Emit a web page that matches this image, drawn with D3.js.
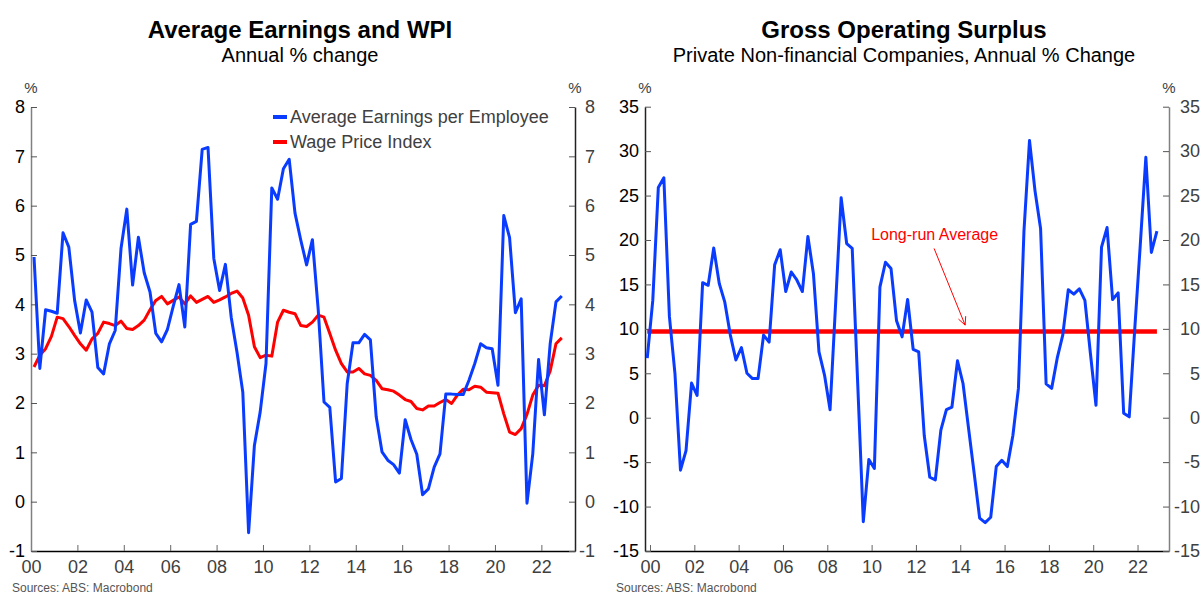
<!DOCTYPE html>
<html>
<head>
<meta charset="utf-8">
<script src="https://cdn.jsdelivr.net/npm/d3@7"></script>
<style>
body { margin: 0; background: #fff; }
svg { font-family: "Liberation Sans", Arial, sans-serif; }
</style>
</head>
<body>
<svg id="chart" width="1203" height="597"></svg>
<script>
// quarterly values
var earnings = [4.96, 2.70, 3.89, 3.86, 3.82, 5.45, 5.16, 4.08, 3.42, 4.09, 3.84, 2.72, 2.59, 3.20, 3.47, 5.13,
    5.93, 4.39, 5.36, 4.64, 4.25, 3.41, 3.24, 3.49, 3.96, 4.40, 3.54, 5.62, 5.68, 7.14, 7.18, 4.93,
    4.28, 4.81, 3.74, 3.03, 2.22, -0.63, 1.14, 1.82, 2.80, 6.36, 6.13, 6.75, 6.94, 5.85, 5.30, 4.80,
    5.31, 3.90, 2.02, 1.91, 0.40, 0.47, 2.39, 3.22, 3.22, 3.39, 3.28, 1.72, 1.01, 0.84, 0.75, 0.58,
    1.66, 1.26, 0.96, 0.14, 0.26, 0.70, 0.97, 2.18, 2.18, 2.17, 2.17, 2.46, 2.80, 3.20, 3.12, 3.10,
    2.36, 5.80, 5.35, 3.83, 4.11, -0.03, 0.97, 2.88, 1.76, 3.20, 4.05, 4.17];
var wpi = [2.73, 2.97, 3.10, 3.35, 3.74, 3.71, 3.55, 3.37, 3.20, 3.07, 3.30, 3.41, 3.64, 3.61, 3.57, 3.66,
    3.51, 3.49, 3.57, 3.68, 3.89, 4.08, 4.16, 4.01, 4.08, 4.15, 4.01, 4.17, 4.04, 4.10, 4.16, 4.04,
    4.09, 4.15, 4.22, 4.27, 4.13, 3.78, 3.14, 2.92, 2.97, 2.95, 3.64, 3.88, 3.84, 3.81, 3.57, 3.55,
    3.64, 3.78, 3.74, 3.41, 3.07, 2.80, 2.63, 2.63, 2.70, 2.59, 2.56, 2.46, 2.29, 2.27, 2.24, 2.16,
    2.07, 2.03, 1.89, 1.86, 1.94, 1.94, 2.01, 2.07, 1.99, 2.16, 2.28, 2.27, 2.34, 2.32, 2.22, 2.21,
    2.20, 1.78, 1.41, 1.36, 1.48, 1.77, 2.16, 2.36, 2.35, 2.65, 3.20, 3.32];
var gos = [6.7, 13.2, 25.9, 27.0, 11.4, 5.0, -5.9, -3.7, 3.9, 2.5, 15.2, 14.9, 19.1, 15.1, 13.0, 9.3,
    6.5, 7.9, 5.0, 4.4, 4.4, 9.3, 8.5, 17.2, 18.9, 14.2, 16.4, 15.5, 14.2, 20.4, 16.2, 7.4,
    4.8, 0.9, 12.8, 24.75, 19.6, 19.05, 3.7, -11.7, -4.7, -5.7, 14.7, 17.5, 16.8, 10.9, 9.1, 13.3,
    7.7, 7.4, -2.0, -6.7, -7.0, -1.4, 0.9, 1.2, 6.4, 3.85, -1.2, -6.2, -11.3, -11.8, -11.2, -5.5,
    -4.8, -5.5, -2.0, 3.3, 21.0, 31.2, 25.5, 21.3, 3.8, 3.3, 6.7, 9.3, 14.4, 13.9, 14.5, 13.2,
    7.2, 1.4, 19.2, 21.4, 13.3, 14.05, 0.5, 0.1, 10.0, 19.5, 29.3, 18.6, 21.0];
var gosAverage = 9.7;

var yearTicks = [2000, 2002, 2004, 2006, 2008, 2010, 2012, 2014, 2016, 2018, 2020, 2022];
var wageTicks = [-1, 0, 1, 2, 3, 4, 5, 6, 7, 8];
var gosTicks = [-15, -10, -5, 0, 5, 10, 15, 20, 25, 30, 35];

var legendNames = ["Average Earnings per Employee", "Wage Price Index"];
var blue = "#0a3cff", red = "#ff0000";

var svg = d3.select("#chart");

// dates of each quarter
function quarters(start, n) {
    return d3.range(n).map(function(i) { return start + i * 0.25; });
}
// plain hyphen for negatives, like the original
function num(d) { return String(d); }

function panel(opts) {
    var x = d3.scaleLinear().domain(opts.xDomain).range(opts.xRange);
    var y = d3.scaleLinear().domain(opts.yDomain).range([551, opts.yTop]);
    var g = svg.append("g");

    // bottom axis
    var xa = g.append("g").attr("transform", "translate(0,551)")
        .call(d3.axisBottom(x).tickValues(yearTicks).tickSizeInner(-6).tickSizeOuter(0).tickPadding(9)
            .tickFormat(function(d) { return String(d % 100).padStart(2, "0"); }));
    xa.select(".domain").attr("stroke", "#000").attr("stroke-width", 1.5);
    xa.selectAll(".tick line").attr("stroke", "#666");
    xa.selectAll("text").attr("font-size", 18).attr("fill", "#404040");

    var ya = g.append("g").attr("transform", "translate(" + opts.xRange[0] + ",0)")
        .call(d3.axisLeft(y).tickValues(opts.yTicks).tickSizeInner(-6).tickSizeOuter(0).tickPadding(6).tickFormat(num));
    ya.select(".domain").attr("stroke", opts.leftAxisColor).attr("stroke-width", 1.5);
    ya.selectAll(".tick line").attr("stroke", "#555");
    ya.selectAll("text").attr("font-size", 18).attr("fill", "#000");

    // right-hand labels sit right-aligned
    var yb = g.append("g").attr("transform", "translate(" + opts.xRange[1] + ",0)")
        .call(d3.axisRight(y).tickValues(opts.yTicks).tickSizeInner(-6).tickSizeOuter(0).tickFormat(num));
    yb.select(".domain").attr("stroke", opts.rightAxisColor).attr("stroke-width", 1.5);
    yb.selectAll(".tick line").attr("stroke", "#555");
    yb.selectAll("text").attr("font-size", 18).attr("fill", "#404040")
        .attr("text-anchor", "end").attr("x", opts.rightLabelEnd);

    g.append("text").attr("x", opts.xRange[0]).attr("y", 93).attr("text-anchor", "middle")
        .attr("font-size", 15).attr("fill", "#404040").text("%");
    g.append("text").attr("x", opts.xRange[1]).attr("y", 93).attr("text-anchor", "middle")
        .attr("font-size", 15).attr("fill", "#404040").text("%");

    var mid = (opts.xRange[0] + opts.xRange[1]) / 2;
    g.append("text").attr("x", mid - 3).attr("y", 38).attr("text-anchor", "middle")
        .attr("font-size", 24).attr("font-weight", "bold").text(opts.title);
    g.append("text").attr("x", mid - 3).attr("y", 62).attr("text-anchor", "middle")
        .attr("font-size", 20).text(opts.subtitle);
    g.append("text").attr("x", opts.sourceX).attr("y", 592)
        .attr("font-size", 12).attr("fill", "#555").text("Sources: ABS: Macrobond");

    return { g: g, x: x, y: y };
}

// ---- left: earnings and WPI
var L = panel({
    xDomain: [2000, 2023.45], xRange: [31, 575],
    yDomain: [-1, 8], yTop: 107, yTicks: wageTicks, rightLabelEnd: 20,
    leftAxisColor: "#808080", rightAxisColor: "#222",
    title: "Average Earnings and WPI", subtitle: "Annual % change", sourceX: 12
});
var tL = quarters(2000.13, earnings.length);
var lineL = d3.line().x(function(d, i) { return L.x(tL[i]); }).y(function(d) { return L.y(d); });

L.g.append("path").datum(wpi).attr("d", lineL).attr("fill", "none")
    .attr("stroke", red).attr("stroke-width", 3).attr("stroke-linejoin", "round");
L.g.append("path").datum(earnings).attr("d", lineL).attr("fill", "none")
    .attr("stroke", blue).attr("stroke-width", 3).attr("stroke-linejoin", "round");

var leg = L.g.selectAll(".leg").data(legendNames).enter().append("g")
    .attr("transform", function(d, i) { return "translate(273," + (117 + i * 25) + ")"; });
leg.append("line").attr("x1", 0).attr("x2", 14).attr("stroke-width", 4)
    .attr("stroke", function(d, i) { return i == 0 ? blue : red; });
leg.append("text").attr("x", 17).attr("dy", "0.35em").attr("font-size", 18).attr("fill", "#404040")
    .text(function(d) { return d; });

// ---- right: gross operating surplus
var R = panel({
    xDomain: [1999.774, 2023.42], xRange: [645, 1169],
    yDomain: [-15, 35], yTop: 106.7, yTicks: gosTicks, rightLabelEnd: 31,
    leftAxisColor: "#222", rightAxisColor: "#808080",
    title: "Gross Operating Surplus", subtitle: "Private Non-financial Companies, Annual % Change", sourceX: 616
});
var tR = quarters(1999.875, gos.length);
var lineR = d3.line().x(function(d, i) { return R.x(tR[i]); }).y(function(d) { return R.y(d); });

R.g.append("line")
    .attr("x1", R.x(tR[0])).attr("x2", R.x(tR[tR.length - 1]))
    .attr("y1", R.y(gosAverage)).attr("y2", R.y(gosAverage))
    .attr("stroke", red).attr("stroke-width", 4.5);
R.g.append("path").datum(gos).attr("d", lineR).attr("fill", "none")
    .attr("stroke", blue).attr("stroke-width", 3).attr("stroke-linejoin", "round");

// annotation
R.g.append("text").attr("x", R.x(2009.98)).attr("y", R.y(20)).attr("font-size", 16)
    .attr("fill", red).text("Long-run Average");
var ax0 = R.x(2012.82), ay0 = R.y(19.05), ax1 = R.x(2014.22), ay1 = R.y(10.42);
var ang = Math.atan2(ay1 - ay0, ax1 - ax0);
R.g.append("line").attr("x1", ax0).attr("y1", ay0).attr("x2", ax1).attr("y2", ay1)
    .attr("stroke", red).attr("stroke-width", 1);
[-0.45, 0.45].forEach(function(a) {
    R.g.append("line").attr("x1", ax1).attr("y1", ay1)
        .attr("x2", ax1 - 9 * Math.cos(ang + a)).attr("y2", ay1 - 9 * Math.sin(ang + a))
        .attr("stroke", red).attr("stroke-width", 1);
});
</script>
</body>
</html>
